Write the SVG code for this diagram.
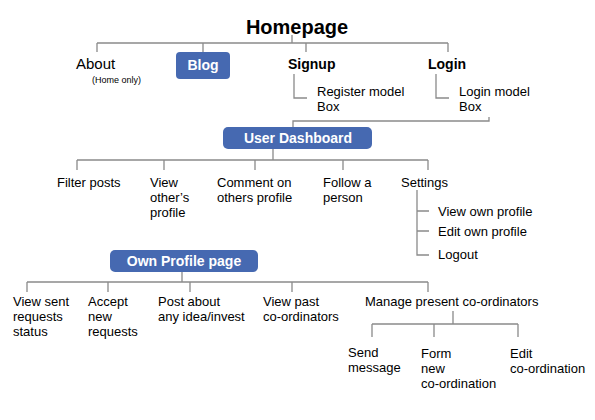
<svg xmlns="http://www.w3.org/2000/svg" width="595" height="420" viewBox="0 0 595 420">
<style>
text{font-family:"Liberation Sans",Arial,sans-serif;fill:#000}
.t{font-size:13px}
.b{font-weight:bold;font-size:14px}
.w{font-weight:bold;font-size:14px;fill:#fff;text-anchor:middle}
.box{fill:#4669b1}
.c{fill:none;stroke:#8a8a8a;stroke-width:1.3}
</style>
<rect width="595" height="420" fill="#fff"/>
<g id="connectors" class="c">
<path d="M292 35V43M97 43H448M97 43V52M203 43V52M306 43V52M448 43V52"/>
<path d="M294 74V98H307M436 74V98H449"/>
<path d="M489 117V121H293V127"/>
<path d="M273 149V160M77 160H428M77 160V170M164 160V170M255 160V170M343 160V170M428 160V170"/>
<path d="M417 190V255H429M417 211H429M417 231H429"/>
<path d="M182 272V282M27 282H428M27 282V292M108 282V292M190 282V292M292 282V292M428 282V292"/>
<path d="M453 311V324M372 324H518M372 324V337M434 324V337M518 324V337"/>
</g>
<g id="homepage"><text x="297" y="34" text-anchor="middle" style="font-weight:bold;font-size:20px">Homepage</text></g>
<g id="about"><text x="76" y="69" style="font-size:15px">About</text><text x="92" y="83" style="font-size:9px">(Home only)</text></g>
<g id="blog"><rect class="box" x="176" y="52" width="54" height="27" rx="4"/><text class="w" x="203" y="70">Blog</text></g>
<g id="signup"><text class="b" x="288" y="69">Signup</text></g>
<g id="login"><text class="b" x="428" y="69">Login</text></g>
<g id="register"><text class="t" x="317" y="96">Register model</text><text class="t" x="317" y="111">Box</text></g>
<g id="loginbox"><text class="t" x="459" y="96">Login model</text><text class="t" x="459" y="111">Box</text></g>
<g id="dashboard"><rect class="box" x="223" y="127" width="149" height="22" rx="5"/><text class="w" x="298" y="143">User Dashboard</text></g>
<g id="filter"><text class="t" x="57" y="187">Filter posts</text></g>
<g id="viewothers"><text class="t" x="150" y="187">View</text><text class="t" x="150" y="202">other’s</text><text class="t" x="150" y="217">profile</text></g>
<g id="comment"><text class="t" x="217" y="187">Comment on</text><text class="t" x="217" y="202">others profile</text></g>
<g id="follow"><text class="t" x="323" y="187">Follow a</text><text class="t" x="323" y="202">person</text></g>
<g id="settings"><text class="t" x="401" y="187">Settings</text></g>
<g id="viewown"><text class="t" x="438" y="216">View own profile</text></g>
<g id="editown"><text class="t" x="438" y="236">Edit own profile</text></g>
<g id="logout"><text class="t" x="438" y="259">Logout</text></g>
<g id="ownprofile"><rect class="box" x="110" y="250" width="148" height="22" rx="5"/><text class="w" x="184" y="266">Own Profile page</text></g>
<g id="viewsent"><text class="t" x="13" y="306">View sent</text><text class="t" x="13" y="321">requests</text><text class="t" x="13" y="336">status</text></g>
<g id="accept"><text class="t" x="88" y="306">Accept</text><text class="t" x="88" y="321">new</text><text class="t" x="88" y="336">requests</text></g>
<g id="post"><text class="t" x="158" y="306">Post about</text><text class="t" x="158" y="321">any idea/invest</text></g>
<g id="viewpast"><text class="t" x="263" y="306">View past</text><text class="t" x="263" y="321">co-ordinators</text></g>
<g id="manage"><text class="t" x="365" y="306">Manage present co-ordinators</text></g>
<g id="send"><text class="t" x="348" y="357">Send</text><text class="t" x="348" y="372">message</text></g>
<g id="form"><text class="t" x="421" y="358">Form</text><text class="t" x="421" y="373">new</text><text class="t" x="421" y="388">co-ordination</text></g>
<g id="edit"><text class="t" x="510" y="358">Edit</text><text class="t" x="510" y="373">co-ordination</text></g>
</svg>
